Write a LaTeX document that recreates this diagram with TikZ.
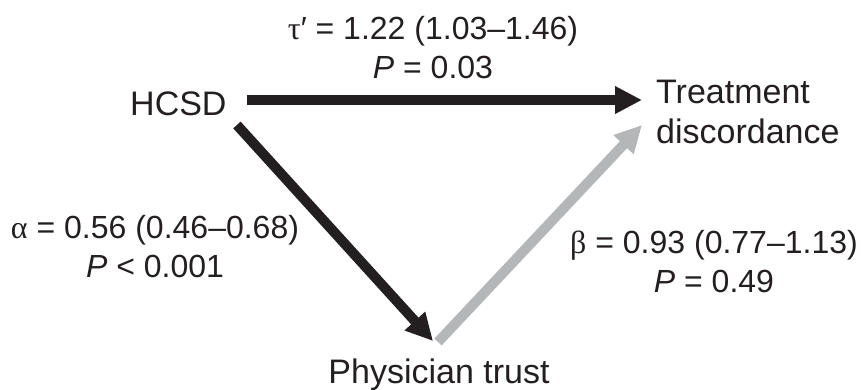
\documentclass[tikz,border=0pt]{standalone}
\usepackage{fontspec}
\setmainfont{Liberation Sans}
\newfontfamily\grk{Liberation Serif}
\usetikzlibrary{arrows.meta}
\definecolor{ink}{HTML}{231F20}
\definecolor{lgray}{HTML}{B4B6B8}
\begin{document}
\begin{tikzpicture}[x=1pt,y=1pt,
  every node/.style={inner sep=0pt,text=ink},
  vartext/.style={font=\fontsize{34}{40}\selectfont,align=left},
  lbl/.style={font=\fontsize{32}{39}\selectfont,align=center},
  blk/.style={draw=ink,line width=10pt,-{Triangle[length=27pt,width=26pt]}},
  gry/.style={draw=lgray,line width=10pt,-{Triangle[length=27pt,width=26pt]}}]
\useasboundingbox (0,0) rectangle (861,-389);
\node[vartext,anchor=base west] (hcsd) at (130,-115) {HCSD};
\node[vartext,anchor=base west] (treat) at (656,-143) {Treatment\\discordance};
\node[vartext,anchor=base] (phys) at (439,-383) {Physician trust};
\node[lbl,anchor=base] (tau) at (433,-78) {{\grk τ}′ = 1.22 (1.03–1.46)\\\textit{P} = 0.03};
\node[lbl,anchor=base] (alpha) at (155,-277) {{\grk α} = 0.56 (0.46–0.68)\\\textit{P} < 0.001};
\node[lbl,anchor=base] (beta) at (714,-292) {{\grk β} = 0.93 (0.77–1.13)\\\textit{P} = 0.49};
\draw[blk] ([shift={(20.7,15)}]hcsd.base east) -- ([shift={(-14,43)}]treat.base west);
\draw[blk] ([shift={(10.2,-10)}]hcsd.base east) -- ([shift={(-6,42)}]phys.base);
\draw[gry] ([shift={(-1,41)}]phys.base) -- ([shift={(-14,18)}]treat.base west);
\end{tikzpicture}
\end{document}
